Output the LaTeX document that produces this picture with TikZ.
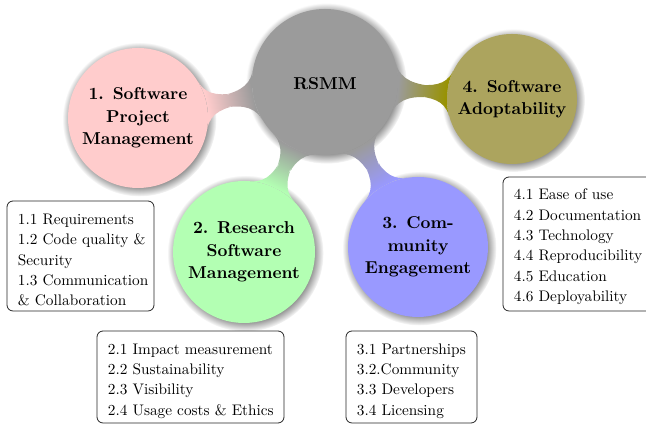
\documentclass[tikz,border=0pt]{standalone}
\usetikzlibrary{mindmap,shadows}
\definecolor{croot}{RGB}{155,155,155}
\definecolor{cone}{RGB}{255,204,204}
\definecolor{ctwo}{RGB}{179,255,179}
\definecolor{cthree}{RGB}{153,153,255}
\definecolor{cfour}{RGB}{172,164,94}
\definecolor{cfourbar}{RGB}{152,146,0}
\begin{document}
\begin{tikzpicture}[x=1pt,y=1pt,
  conc/.style={circle, inner sep=0pt, circular drop shadow},
  conctext/.style={inner sep=0pt, align=center, scale=1.72,
    font=\fontsize{10}{13}\selectfont\bfseries},
  itembox/.style={draw=black!85, line width=0.8pt, rounded corners=6pt, fill=white,
    inner sep=0pt},
  itemtext/.style={inner sep=0pt, align=left, anchor=west, scale=1.53,
    font=\fontsize{10}{13.3}\selectfont}]
\useasboundingbox (0,0) rectangle (646,427);
\node[conc, fill=croot, minimum size=146pt] (root) at (325,345) {};
\node[conc, fill=cone, minimum size=140pt] (c1) at (138,309) {};
\node[conc, fill=ctwo, minimum size=142pt] (c2) at (244,175) {};
\node[conc, fill=cthree, minimum size=140pt] (c3) at (418,180) {};
\node[conc, fill=cfour, minimum size=130pt] (c4) at (512,328) {};
\begin{scope}[mindmap]
\path (root) to[circle connection bar switch color=from (croot) to (cone)] (c1);
\path (root) to[circle connection bar switch color=from (croot) to (ctwo)] (c2);
\path (root) to[circle connection bar switch color=from (croot) to (cthree)] (c3);
\path (root) to[circle connection bar switch color=from (croot) to (cfourbar)] (c4);
\end{scope}
\node[conctext] (rt) at ([yshift=-2pt]root.center) {RSMM};
\node[conctext] (t1) at (c1.center) {1. Software\\Project\\Management};
\node[conctext] (t2) at (c2.center) {2. Research\\Software\\Management};
\node[conctext] (t3) at (c3.center) {3. Com-\\munity\\Engagement};
\node[conctext] (t4) at (c4.center) {4. Software\\Adoptability};
\node[itembox, minimum width=147pt, minimum height=110pt] (b1) at (80.5,171) {};
\node[itembox, minimum width=187pt, minimum height=92pt] (b2) at (190.5,50) {};
\node[itembox, minimum width=131pt, minimum height=92pt] (b3) at (411.5,50) {};
\node[itembox, minimum width=150pt, minimum height=134pt] (b4) at (578,183) {};
\node[itemtext] (i1) at ([xshift=11pt,yshift=-4pt]b1.west)
  {1.1 Requirements\\1.2 Code quality \&\\Security\\1.3 Communication\\\& Collaboration};
\node[itemtext] (i2) at ([xshift=11pt,yshift=-4pt]b2.west)
  {2.1 Impact measurement\\2.2 Sustainability\\2.3 Visibility\\2.4 Usage costs \& Ethics};
\node[itemtext] (i3) at ([xshift=11pt,yshift=-4pt]b3.west)
  {3.1 Partnerships\\3.2.Community\\3.3 Developers\\3.4 Licensing};
\node[itemtext] (i4) at ([xshift=11pt,yshift=-3pt]b4.west)
  {4.1 Ease of use\\4.2 Documentation\\4.3 Technology\\4.4 Reproducibility\\4.5 Education\\4.6 Deployability};
\end{tikzpicture}
\end{document}
